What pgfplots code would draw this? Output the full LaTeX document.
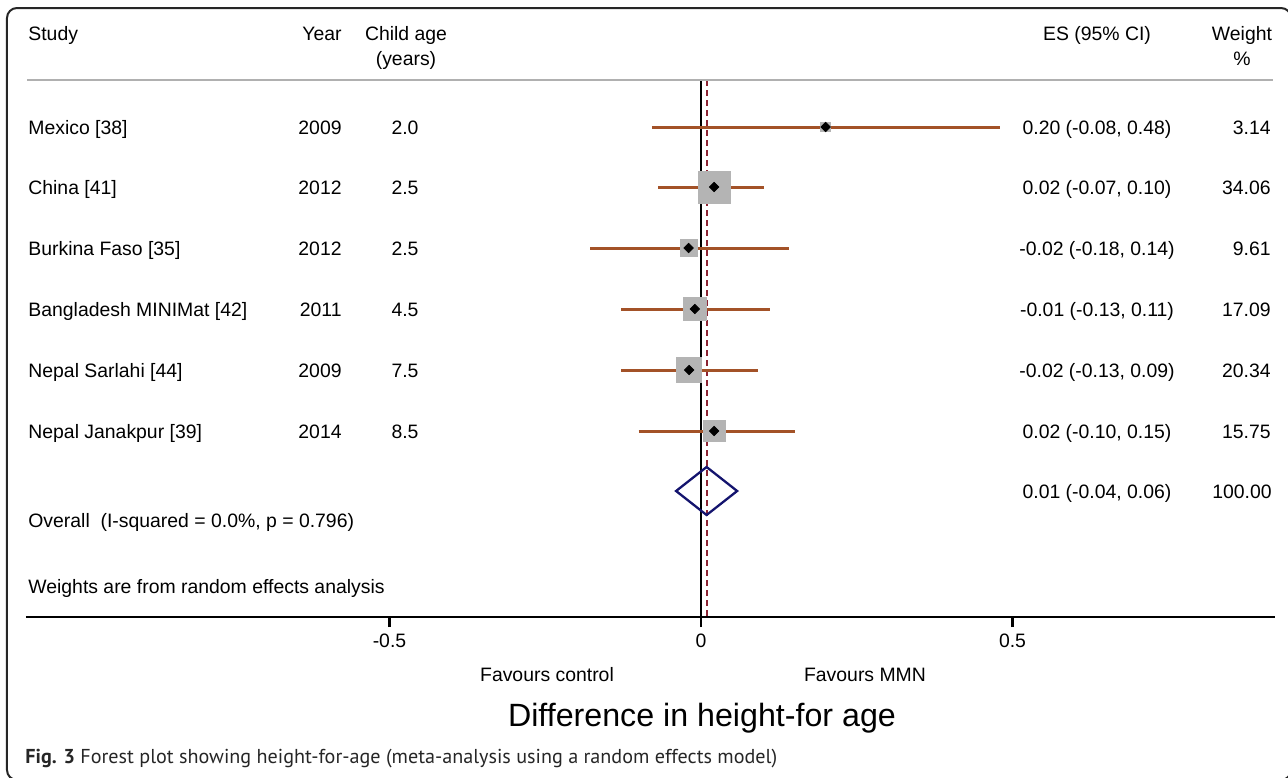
\documentclass[border=0pt]{standalone}
\usepackage{fontspec}
\setmainfont{Liberation Sans}
\newfontfamily\capfont{PT Sans}
\usepackage{pgfplots}
\pgfplotsset{compat=1.18}
\usepackage{pgfplotstable}

\definecolor{ciorange}{RGB}{163,82,40}
\definecolor{boxgray}{RGB}{180,180,180}
\definecolor{refred}{RGB}{140,35,50}
\definecolor{navyd}{RGB}{20,20,110}
\definecolor{hdrgray}{RGB}{176,176,176}

% y = row position (pixels from top, negative), es, lower, upper, weight
\pgfplotstableread{
y es lo hi w
-127 0.200 -0.079 0.480 3.14
-187 0.021 -0.069 0.101 34.06
-248 -0.020 -0.178 0.141 9.61
-309 -0.010 -0.128 0.111 17.09
-370 -0.019 -0.128 0.091 20.34
-431 0.021 -0.100 0.151 15.75
}\studies

\newcommand\X[1]{{(#1-701)/623}}

\begin{document}
\begin{tikzpicture}[txt/.style={font=\fontsize{9.7}{11.6}\selectfont, inner sep=0pt}]
\begin{axis}[
  scale only axis, width=624.5pt, height=308.5pt,
  xmin=-1.0835, xmax=0.9213, ymin=-617, ymax=0,
  axis x line=bottom, axis y line=none,
  x axis line style={-, line width=1.2pt, black},
  xtick={-0.5,0,0.5}, xticklabels={-0.5,0,0.5},
  xtick align=outside, major tick length=5pt,
  xtick style={line width=1.2pt, black},
  xticklabel style={font=\fontsize{9.7}{11.6}\selectfont},
  ytick=\empty,
  clip=false,
  ci/.style={ciorange, line width=1.5pt, forget plot},
]
% reference lines
\addplot[black, line width=1pt, forget plot] coordinates {(0,-80) (0,-617)};
\addplot[refred, line width=1pt, dash pattern=on 3pt off 2pt, forget plot] coordinates {(0.009,-80) (0.009,-617)};
% weight boxes
\addplot[only marks, mark=square*, scatter,
  scatter/use mapped color={draw=boxgray, fill=boxgray},
  visualization depends on={\thisrow{w} \as \wt},
  scatter/@pre marker code/.append style={/tikz/mark size={1.37*sqrt(\wt)}},
  forget plot] table[x=es, y=y] {\studies};
% confidence intervals
\addplot[ci] coordinates {(-0.079,-127) (0.480,-127)};
\addplot[ci] coordinates {(-0.069,-187) (0.101,-187)};
\addplot[ci] coordinates {(-0.178,-248) (0.141,-248)};
\addplot[ci] coordinates {(-0.128,-309) (0.111,-309)};
\addplot[ci] coordinates {(-0.128,-370) (0.091,-370)};
\addplot[ci] coordinates {(-0.100,-431) (0.151,-431)};
% point estimates
\addplot[only marks, mark=square*, mark size=1.65pt, mark options={rotate=45}, black, forget plot] table[x=es, y=y] {\studies};
% overall diamond
\addplot[navyd, line width=1.15pt, forget plot] coordinates {(-0.040,-491) (0.009,-467) (0.058,-491) (0.009,-515) (-0.040,-491)} -- cycle;

% header
\node[txt, anchor=base west] at (axis cs:\X{28},-40) {Study};
\node[txt, anchor=base east] at (axis cs:\X{342},-40) {Year};
\node[txt, anchor=base] at (axis cs:\X{406},-40) {Child age};
\node[txt, anchor=base] at (axis cs:\X{406},-65) {(years)};
\node[txt, anchor=base] at (axis cs:\X{1097},-40) {ES (95\% CI)};
\node[txt, anchor=base] at (axis cs:\X{1242},-40) {Weight};
\node[txt, anchor=base] at (axis cs:\X{1242},-65) {\%};
\draw[hdrgray, line width=1pt] (axis cs:\X{27},-80) -- (axis cs:\X{1273},-80);

% rows
\node[txt, anchor=base west] at (axis cs:\X{28},-134) {Mexico [38]};
\node[txt, anchor=base east] at (axis cs:\X{342},-134) {2009};
\node[txt, anchor=base] at (axis cs:\X{405},-134) {2.0};
\node[txt, anchor=base] at (axis cs:\X{1097},-134) {0.20 (-0.08, 0.48)};
\node[txt, anchor=base east] at (axis cs:\X{1271},-134) {3.14};

\node[txt, anchor=base west] at (axis cs:\X{28},-194) {China [41]};
\node[txt, anchor=base east] at (axis cs:\X{342},-194) {2012};
\node[txt, anchor=base] at (axis cs:\X{405},-194) {2.5};
\node[txt, anchor=base] at (axis cs:\X{1097},-194) {0.02 (-0.07, 0.10)};
\node[txt, anchor=base east] at (axis cs:\X{1271},-194) {34.06};

\node[txt, anchor=base west] at (axis cs:\X{28},-255) {Burkina Faso [35]};
\node[txt, anchor=base east] at (axis cs:\X{342},-255) {2012};
\node[txt, anchor=base] at (axis cs:\X{405},-255) {2.5};
\node[txt, anchor=base] at (axis cs:\X{1097},-255) {-0.02 (-0.18, 0.14)};
\node[txt, anchor=base east] at (axis cs:\X{1271},-255) {9.61};

\node[txt, anchor=base west] at (axis cs:\X{28},-316) {Bangladesh MINIMat [42]};
\node[txt, anchor=base east] at (axis cs:\X{342},-316) {2011};
\node[txt, anchor=base] at (axis cs:\X{405},-316) {4.5};
\node[txt, anchor=base] at (axis cs:\X{1097},-316) {-0.01 (-0.13, 0.11)};
\node[txt, anchor=base east] at (axis cs:\X{1271},-316) {17.09};

\node[txt, anchor=base west] at (axis cs:\X{28},-377) {Nepal Sarlahi [44]};
\node[txt, anchor=base east] at (axis cs:\X{342},-377) {2009};
\node[txt, anchor=base] at (axis cs:\X{405},-377) {7.5};
\node[txt, anchor=base] at (axis cs:\X{1097},-377) {-0.02 (-0.13, 0.09)};
\node[txt, anchor=base east] at (axis cs:\X{1271},-377) {20.34};

\node[txt, anchor=base west] at (axis cs:\X{28},-438) {Nepal Janakpur [39]};
\node[txt, anchor=base east] at (axis cs:\X{342},-438) {2014};
\node[txt, anchor=base] at (axis cs:\X{405},-438) {8.5};
\node[txt, anchor=base] at (axis cs:\X{1097},-438) {0.02 (-0.10, 0.15)};
\node[txt, anchor=base east] at (axis cs:\X{1271},-438) {15.75};

% overall
\node[txt, anchor=base] at (axis cs:\X{1097},-498) {0.01 (-0.04, 0.06)};
\node[txt, anchor=base east] at (axis cs:\X{1272},-498) {100.00};
\node[txt, anchor=base west] at (axis cs:\X{28},-527) {Overall\ \ (I-squared = 0.0\%, p = 0.796)};
\node[txt, anchor=base west] at (axis cs:\X{28},-593) {Weights are from random effects analysis};

% bottom labels
\node[txt, anchor=base] at (axis cs:\X{547},-681) {Favours control};
\node[txt, anchor=base] at (axis cs:\X{865},-681) {Favours MMN};
\node[inner sep=0pt, anchor=base, font=\fontsize{16.1}{19}\selectfont] at (axis cs:\X{702},-726) {Difference in height-for age};
\node[inner sep=0pt, anchor=base west, font=\capfont\fontsize{10.07}{12}\selectfont, text=black!85] at (axis cs:\X{25},-763) {\textbf{Fig. 3} Forest plot showing height-for-age (meta-analysis using a random effects model)};

% frame
\draw[line width=1pt, black!85, rounded corners=5pt] (axis cs:\X{7},-8) rectangle (axis cs:\X{1291},-780);

\coordinate (BL) at (axis cs:\X{0},-778);
\coordinate (TR) at (axis cs:\X{1288},0);
\end{axis}
\pgfresetboundingbox
\useasboundingbox (BL) rectangle (TR);
\end{tikzpicture}
\end{document}
